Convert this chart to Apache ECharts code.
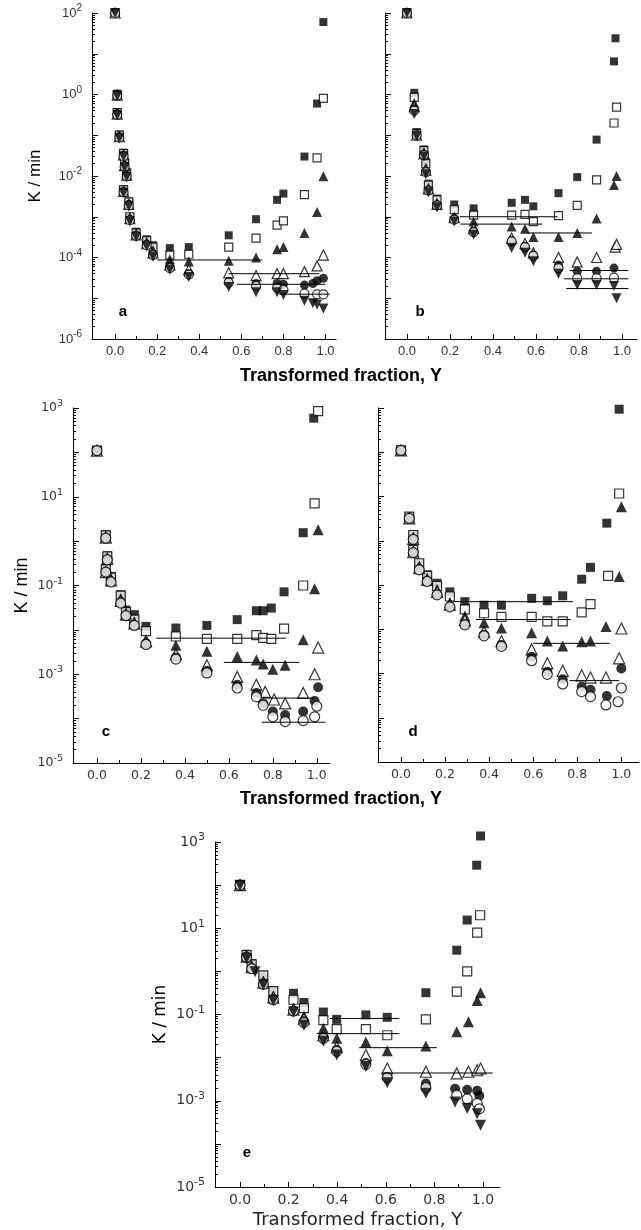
<!DOCTYPE html>
<html>
<head>
<meta charset="utf-8">
<script src="https://cdn.jsdelivr.net/npm/echarts@6/dist/echarts.min.js"></script>
<style>
  html, body { margin: 0; padding: 0; background: #fff; }
  #chart { width: 641px; height: 1230px; }
</style>
</head>
<body>
<div id="chart"></div>
<script>
// Rate constant K (1/min) versus transformed fraction Y, five conditions (a–e).
// Each array holds [Y, K] pairs; each *_lines array holds [Yfrom, Yto, K] plateaus.

// ---- panel a ----
const a_sqF = [[0,100],[0.01,1.05],[0.01,0.37],[0.02,0.105],[0.04,0.037],[0.045,0.022],[0.055,0.012],[0.04,0.0048],[0.065,0.0024],[0.07,0.001],[0.10,4.3e-4],[0.15,2.8e-4],[0.18,2.0e-4],[0.26,1.7e-4],[0.35,1.8e-4],[0.54,3.5e-4],[0.67,8.7e-4],[0.77,2.6e-3],[0.80,3.7e-3],[0.90,0.03],[0.96,0.6],[0.99,60]];
const a_sqO = [[0,100],[0.01,1.0],[0.01,0.36],[0.02,0.1],[0.04,0.036],[0.045,0.021],[0.055,0.012],[0.04,0.0046],[0.065,0.0023],[0.07,0.001],[0.10,4.0e-4],[0.15,2.6e-4],[0.18,1.8e-4],[0.26,1.15e-4],[0.35,1.2e-4],[0.54,1.8e-4],[0.67,3.0e-4],[0.77,6.2e-4],[0.80,7.9e-4],[0.90,3.5e-3],[0.96,0.028],[0.99,0.8]];
const a_triF = [[0,100],[0.01,0.98],[0.01,0.34],[0.02,0.095],[0.04,0.034],[0.045,0.019],[0.055,0.011],[0.04,0.0044],[0.065,0.0021],[0.07,9.5e-4],[0.10,3.8e-4],[0.15,2.4e-4],[0.18,1.5e-4],[0.26,9e-5],[0.35,8e-5],[0.54,8.3e-5],[0.67,1.0e-4],[0.77,1.6e-4],[0.80,1.8e-4],[0.90,4.0e-4],[0.96,1.3e-3],[0.99,9.8e-3]];
const a_triO = [[0,100],[0.01,0.97],[0.01,0.33],[0.02,0.092],[0.04,0.033],[0.045,0.018],[0.055,0.0105],[0.04,0.0042],[0.065,0.002],[0.07,9e-4],[0.10,3.6e-4],[0.15,2.2e-4],[0.18,1.3e-4],[0.26,6.5e-5],[0.35,5.0e-5],[0.54,4.2e-5],[0.67,3.6e-5],[0.77,4.0e-5],[0.80,4.0e-5],[0.90,4.5e-5],[0.96,6.2e-5],[0.99,1.15e-4]];
const a_cirF = [[0,100],[0.01,0.95],[0.01,0.33],[0.02,0.09],[0.04,0.032],[0.045,0.018],[0.055,0.01],[0.04,0.0041],[0.065,0.002],[0.07,8.5e-4],[0.10,3.5e-4],[0.15,2.1e-4],[0.18,1.2e-4],[0.26,6e-5],[0.35,4.0e-5],[0.54,2.6e-5],[0.67,2.3e-5],[0.77,2.3e-5],[0.80,2.2e-5],[0.90,2.1e-5],[0.94,2.3e-5],[0.96,2.7e-5],[0.99,3.1e-5]];
const a_cirO = [[0,100],[0.01,0.94],[0.01,0.32],[0.02,0.088],[0.04,0.031],[0.045,0.017],[0.055,0.0098],[0.04,0.004],[0.065,0.0019],[0.07,8.2e-4],[0.10,3.4e-4],[0.15,2.0e-4],[0.18,1.15e-4],[0.26,5.5e-5],[0.35,3.8e-5],[0.54,2.4e-5],[0.67,2.0e-5],[0.77,1.8e-5],[0.80,1.6e-5],[0.90,1.3e-5],[0.96,1.25e-5],[0.99,1.25e-5]];
const a_triD = [[0,100],[0.01,0.92],[0.01,0.31],[0.02,0.085],[0.04,0.03],[0.045,0.016],[0.055,0.0095],[0.04,0.0038],[0.065,0.0018],[0.07,7.8e-4],[0.10,3.2e-4],[0.15,1.9e-4],[0.18,1.05e-4],[0.26,5.0e-5],[0.35,3.3e-5],[0.54,1.9e-5],[0.67,1.4e-5],[0.77,1.4e-5],[0.80,1.2e-5],[0.90,8.7e-6],[0.94,7.5e-6],[0.96,7.0e-6],[0.99,5.6e-6]];
const a_lines = [[0.20,0.70,8.7e-5],[0.54,0.97,4.0e-5],[0.58,1.00,2.2e-5],[0.78,1.02,1.26e-5]];

// ---- panel b ----
const b_sqF = [[0,100],[0.034,1.1],[0.045,0.12],[0.079,0.045],[0.088,0.022],[0.10,0.0065],[0.14,0.0028],[0.22,0.002],[0.31,0.0016],[0.487,0.0022],[0.549,0.0026],[0.588,0.0018],[0.705,0.0038],[0.792,0.0094],[0.882,0.078],[0.963,6.5],[0.97,24]];
const b_sqO = [[0,100],[0.034,0.85],[0.045,0.11],[0.079,0.042],[0.088,0.02],[0.10,0.006],[0.14,0.0026],[0.22,0.0015],[0.31,0.0011],[0.487,0.0011],[0.549,0.00115],[0.588,7.6e-4],[0.705,0.00107],[0.792,0.0019],[0.882,0.008],[0.963,0.2],[0.975,0.49]];
const b_triF = [[0,100],[0.034,0.62],[0.045,0.105],[0.079,0.038],[0.088,0.016],[0.10,0.005],[0.14,0.0022],[0.22,0.001],[0.31,7.6e-4],[0.487,5.8e-4],[0.549,5.1e-4],[0.588,3.2e-4],[0.705,3.2e-4],[0.792,4.0e-4],[0.882,9.0e-4],[0.963,0.006],[0.975,0.01]];
const b_triO = [[0,100],[0.034,0.5],[0.045,0.1],[0.079,0.035],[0.088,0.014],[0.10,0.0048],[0.14,0.002],[0.22,9.5e-4],[0.31,5.2e-4],[0.487,3.0e-4],[0.549,2.2e-4],[0.588,1.3e-4],[0.705,1.0e-4],[0.792,7.8e-5],[0.882,1.0e-4],[0.968,1.8e-4],[0.975,2.1e-4]];
const b_cirF = [[0,100],[0.034,0.45],[0.045,0.1],[0.079,0.034],[0.088,0.013],[0.10,0.0045],[0.14,0.0019],[0.22,9.0e-4],[0.31,4.5e-4],[0.487,2.6e-4],[0.549,1.9e-4],[0.588,1.15e-4],[0.705,6.5e-5],[0.792,4.6e-5],[0.882,4.6e-5],[0.963,5.5e-5]];
const b_cirO = [[0,100],[0.034,0.4],[0.045,0.1],[0.079,0.033],[0.088,0.0125],[0.10,0.0044],[0.14,0.0019],[0.22,8.5e-4],[0.31,4.2e-4],[0.487,2.5e-4],[0.549,1.8e-4],[0.588,1.1e-4],[0.705,5.5e-5],[0.792,3.1e-5],[0.882,3.1e-5],[0.963,3.2e-5]];
const b_triD = [[0,100],[0.034,0.33],[0.045,0.095],[0.079,0.03],[0.088,0.011],[0.10,0.004],[0.14,0.0017],[0.22,7.6e-4],[0.31,3.6e-4],[0.487,1.7e-4],[0.549,1.3e-4],[0.588,8.1e-5],[0.705,4.0e-5],[0.792,2.1e-5],[0.882,2.1e-5],[0.963,2.0e-5],[0.975,1.0e-5]];
const b_lines = [[0.246,0.70,1.0e-3],[0.25,0.63,6.6e-4],[0.557,0.86,4.0e-4],[0.758,1.03,4.8e-5],[0.73,1.03,3.0e-5],[0.74,1.03,1.73e-5]];

// ---- panel c ----
const c_sqF = [[0,110],[0.04,1.4],[0.047,0.47],[0.04,0.24],[0.064,0.16],[0.108,0.062],[0.132,0.028],[0.17,0.022],[0.223,0.012],[0.359,0.011],[0.50,0.0126],[0.638,0.017],[0.725,0.027],[0.756,0.027],[0.793,0.031],[0.851,0.072],[0.938,1.55],[0.986,590]];
const c_sqO = [[0,110],[0.04,1.35],[0.047,0.45],[0.04,0.23],[0.064,0.15],[0.108,0.059],[0.132,0.025],[0.17,0.017],[0.223,0.0094],[0.359,0.0071],[0.50,0.0063],[0.638,0.0063],[0.725,0.0076],[0.756,0.0066],[0.793,0.0063],[0.851,0.0107],[0.938,0.1],[0.99,7.1],[1.006,850]];
const c_triF = [[0,110],[0.04,1.25],[0.047,0.42],[0.04,0.21],[0.064,0.14],[0.108,0.05],[0.132,0.024],[0.17,0.015],[0.223,0.006],[0.359,0.0045],[0.50,0.0033],[0.638,0.0025],[0.725,0.0021],[0.756,0.0017],[0.80,0.0013],[0.856,0.0016],[0.938,0.006],[0.99,0.085],[1.006,1.8]];
const c_triO = [[0,110],[0.04,1.2],[0.047,0.4],[0.04,0.2],[0.064,0.13],[0.108,0.045],[0.132,0.022],[0.17,0.014],[0.223,0.0055],[0.359,0.0028],[0.50,0.0016],[0.638,8.7e-4],[0.725,5.8e-4],[0.765,4.0e-4],[0.806,2.7e-4],[0.856,2.2e-4],[0.938,3.8e-4],[0.99,1.0e-3],[1.006,0.004]];
const c_cirF = [[0,110],[0.04,1.18],[0.047,0.39],[0.04,0.2],[0.064,0.125],[0.108,0.042],[0.132,0.021],[0.17,0.013],[0.223,0.005],[0.359,0.0024],[0.50,0.0012],[0.638,5.8e-4],[0.725,3.8e-4],[0.756,2.2e-4],[0.80,1.45e-4],[0.856,1.2e-4],[0.938,1.45e-4],[0.99,2.5e-4],[1.006,5.1e-4]];
const c_cirO = [[0,110],[0.04,1.17],[0.047,0.38],[0.04,0.2],[0.064,0.12],[0.108,0.04],[0.132,0.021],[0.17,0.0126],[0.223,0.0047],[0.359,0.0022],[0.50,0.00107],[0.638,4.9e-4],[0.725,3.1e-4],[0.756,2.0e-4],[0.80,1.1e-4],[0.856,8.6e-5],[0.938,9.0e-5],[0.99,1.1e-4],[1.0,1.9e-4]];
const c_lines = [[0.27,0.86,6.5e-3],[0.577,0.92,1.85e-3],[0.75,0.99,2.9e-4],[0.75,1.04,8.3e-5]];

// ---- panel d ----
const d_sqF = [[0,110],[0.038,3.5],[0.056,1.35],[0.056,0.62],[0.083,0.31],[0.119,0.17],[0.164,0.11],[0.222,0.07],[0.29,0.042],[0.377,0.035],[0.456,0.035],[0.593,0.05],[0.664,0.044],[0.734,0.057],[0.82,0.135],[0.86,0.25],[0.934,2.5],[0.99,940]];
const d_sqO = [[0,110],[0.038,3.5],[0.056,1.35],[0.056,0.62],[0.083,0.31],[0.119,0.16],[0.164,0.095],[0.222,0.055],[0.29,0.028],[0.377,0.023],[0.456,0.019],[0.593,0.019],[0.664,0.015],[0.734,0.015],[0.82,0.024],[0.86,0.037],[0.94,0.16],[0.99,11.7]];
const d_triF = [[0,110],[0.038,3.3],[0.056,1.2],[0.056,0.58],[0.083,0.27],[0.119,0.14],[0.164,0.08],[0.222,0.04],[0.29,0.02],[0.377,0.014],[0.456,0.0107],[0.593,0.0083],[0.664,0.0054],[0.734,0.0042],[0.82,0.0052],[0.86,0.0054],[0.93,0.0115],[0.99,0.155],[1.0,5.9]];
const d_triO = [[0,110],[0.038,3.2],[0.056,1.1],[0.056,0.55],[0.083,0.24],[0.119,0.13],[0.164,0.07],[0.222,0.036],[0.29,0.016],[0.377,0.0087],[0.456,0.0054],[0.593,0.0035],[0.664,0.0017],[0.734,0.00115],[0.82,9.1e-4],[0.86,8.1e-4],[0.93,8.1e-4],[0.99,0.0022],[1.0,0.0104]];
const d_cirF = [[0,110],[0.038,3.2],[0.056,1.08],[0.056,0.54],[0.083,0.23],[0.119,0.125],[0.164,0.062],[0.222,0.033],[0.29,0.013],[0.377,0.0075],[0.456,0.0044],[0.593,0.0024],[0.664,0.0011],[0.734,7.4e-4],[0.82,5.0e-4],[0.86,4.3e-4],[0.934,3.1e-4],[1.0,0.0013]];
const d_cirO = [[0,110],[0.038,3.2],[0.056,1.07],[0.056,0.54],[0.083,0.22],[0.119,0.12],[0.164,0.06],[0.222,0.032],[0.29,0.0126],[0.377,0.0071],[0.456,0.0041],[0.593,0.00195],[0.664,9.6e-4],[0.734,5.8e-4],[0.82,3.9e-4],[0.86,3.0e-4],[0.93,1.95e-4],[0.985,2.3e-4],[1.0,4.7e-4]];
const d_lines = [[0.236,0.78,0.042],[0.34,0.77,0.0166],[0.60,0.946,4.8e-3],[0.765,0.99,6.9e-4]];

// ---- panel e ----
const e_sqF = [[0,100],[0.027,2.5],[0.048,1.5],[0.096,0.81],[0.137,0.35],[0.22,0.31],[0.263,0.19],[0.343,0.114],[0.398,0.077],[0.518,0.098],[0.606,0.086],[0.765,0.32],[0.892,3.1],[0.935,15.5],[0.974,290],[0.99,1380]];
const e_sqO = [[0,100],[0.027,2.4],[0.048,1.45],[0.096,0.81],[0.137,0.35],[0.22,0.22],[0.263,0.14],[0.343,0.074],[0.398,0.046],[0.518,0.046],[0.606,0.033],[0.765,0.077],[0.892,0.34],[0.935,1.0],[0.976,7.9],[0.988,20]];
const e_triF = [[0,100],[0.027,2.3],[0.048,1.3],[0.096,0.6],[0.137,0.27],[0.22,0.14],[0.263,0.092],[0.343,0.048],[0.398,0.028],[0.518,0.023],[0.606,0.0144],[0.765,0.0186],[0.892,0.04],[0.94,0.068],[0.976,0.21],[0.99,0.32]];
const e_triO = [[0,100],[0.027,2.2],[0.048,1.25],[0.096,0.55],[0.137,0.25],[0.22,0.13],[0.263,0.08],[0.343,0.033],[0.398,0.0175],[0.518,0.0115],[0.606,0.0056],[0.765,0.0047],[0.892,0.0043],[0.94,0.0047],[0.976,0.0051],[0.99,0.0056]];
const e_cirF = [[0,100],[0.027,2.2],[0.048,1.2],[0.096,0.52],[0.137,0.23],[0.22,0.12],[0.263,0.07],[0.343,0.03],[0.398,0.015],[0.518,0.0075],[0.606,0.0036],[0.765,0.0025],[0.885,0.0019],[0.935,0.0018],[0.976,0.0017],[0.985,0.0013]];
const e_cirO = [[0,100],[0.027,2.1],[0.048,1.15],[0.096,0.5],[0.137,0.22],[0.22,0.12],[0.263,0.065],[0.343,0.028],[0.398,0.014],[0.518,0.007],[0.606,0.0034],[0.765,0.002],[0.892,0.00135],[0.935,0.0011],[0.976,8.7e-4],[0.985,6.5e-4]];
const e_triD = [[0,100],[0.027,2.0],[0.062,0.98],[0.096,0.48],[0.137,0.21],[0.22,0.115],[0.263,0.056],[0.343,0.024],[0.398,0.0115],[0.518,0.0062],[0.606,0.0026],[0.765,0.0015],[0.885,9.3e-4],[0.935,6.6e-4],[0.976,5.0e-4],[0.99,2.7e-4]];
const e_lines = [[0.37,0.656,0.081],[0.315,0.656,0.036],[0.49,0.81,0.017],[0.583,1.04,4.4e-3]];

// ---- tick positions ----
const xMajorTicks = [0, 0.2, 0.4, 0.6, 0.8, 1.0];
const xMinorTicks = [0.1, 0.3, 0.5, 0.7, 0.9];
const decadesAB = [-6, -5, -4, -3, -2, -1, 0, 1, 2];
const labelDecadesAB = [-6, -4, -2, 0, 2];
const decadesCDE = [-5, -4, -3, -2, -1, 0, 1, 2, 3];
const labelDecadesCDE = [-5, -3, -1, 1, 3];
const xTitle = 'Transformed fraction, Y';
const yTitle = 'K / min';

// ---- layout and styling ----
const SANS = '"Liberation Sans", Arial, sans-serif';
const WIDE = '"DejaVu Sans", Verdana, sans-serif';
const INK = '#000';
const TEXT = '#333';

const panels = [
  { letter: 'a', series: { sqF: a_sqF, sqO: a_sqO, triF: a_triF, triO: a_triO, cirF: a_cirF, cirO: a_cirO, triD: a_triD }, lines: a_lines,
    grid: { left: 92, top: 13, width: 244, height: 326 }, xr: [-0.11, 1.05], decades: decadesAB, labels: labelDecadesAB,
    yLabel: true, yNameGap: 48, nameSize: 17, nameFont: SANS, font: SANS, fs: 13, mark: 8, letterPos: [123, 312] },
  { letter: 'b', series: { sqF: b_sqF, sqO: b_sqO, triF: b_triF, triO: b_triO, cirF: b_cirF, cirO: b_cirO, triD: b_triD }, lines: b_lines,
    grid: { left: 385, top: 13, width: 252, height: 326 }, xr: [-0.102, 1.07], decades: decadesAB, labels: labelDecadesAB,
    yLabel: false, font: SANS, fs: 13, mark: 8, letterPos: [420, 312] },
  { letter: 'c', series: { sqF: c_sqF, sqO: c_sqO, triF: c_triF, triO: c_triO, cirF: c_cirF, cirO: c_cirO }, lines: c_lines,
    grid: { left: 73, top: 408, width: 257, height: 355 }, xr: [-0.109, 1.06], decades: decadesCDE, labels: labelDecadesCDE,
    yLabel: true, yNameGap: 42, nameSize: 18, nameFont: SANS, font: WIDE, fs: 12.5, mark: 9, letterPos: [106, 732] },
  { letter: 'd', series: { sqF: d_sqF, sqO: d_sqO, triF: d_triF, triO: d_triO, cirF: d_cirF, cirO: d_cirO }, lines: d_lines,
    grid: { left: 378, top: 408, width: 261, height: 354 }, xr: [-0.104, 1.08], decades: decadesCDE, labels: labelDecadesCDE,
    yLabel: false, font: WIDE, fs: 12.5, mark: 9, letterPos: [413, 732] },
  { letter: 'e', series: { sqF: e_sqF, sqO: e_sqO, triF: e_triF, triO: e_triO, cirF: e_cirF, cirO: e_cirO, triD: e_triD }, lines: e_lines,
    grid: { left: 215, top: 842, width: 285, height: 345 }, xr: [-0.103, 1.07], decades: decadesCDE, labels: labelDecadesCDE,
    yLabel: true, yNameGap: 46, nameSize: 17, nameFont: WIDE, font: WIDE, fs: 14, mark: 9, letterPos: [247, 1153], xName: true }
];

const MARKERS = {
  sqF:  { symbol: 'rect',     scale: 0.95, fill: INK },
  sqO:  { symbol: 'rect',     scale: 0.95, fill: '#fff' },
  triF: { symbol: 'triangle', scale: 1.2,  fill: INK },
  triO: { symbol: 'triangle', scale: 1.2,  fill: '#fff' },
  cirF: { symbol: 'circle',   scale: 1.1,  fill: INK },
  cirO: { symbol: 'circle',   scale: 1.1,  fill: '#fff' },
  triD: { symbol: 'triangle', scale: 1.2,  fill: INK, rotate: 180 }
};
const DRAW_ORDER = ['sqF', 'sqO', 'triF', 'triO', 'cirF', 'cirO', 'triD'];

const log10 = Math.log10;
const minorLogTicks = (decs) => {
  const out = [];
  for (let i = 0; i < decs.length - 1; i++) {
    for (let k = 2; k <= 9; k++) out.push(decs[i] + log10(k));
  }
  return out;
};

const grids = [], xAxes = [], yAxes = [], series = [], graphics = [];

panels.forEach((p, i) => {
  grids.push(Object.assign({ containLabel: false, outerBoundsMode: 'none' }, p.grid));
  const yMin = p.decades[0], yMax = p.decades[p.decades.length - 1];
  const lineStyle = { color: INK, width: 1 };

  // main x axis: line, major ticks, labels
  xAxes.push({
    gridIndex: i, type: 'value', min: p.xr[0], max: p.xr[1], position: 'bottom',
    axisLine: { onZero: false, lineStyle },
    axisTick: { inside: true, length: 5, customValues: xMajorTicks, lineStyle },
    axisLabel: { customValues: xMajorTicks, formatter: v => v.toFixed(1), margin: 6,
      fontSize: p.fs, color: TEXT, fontFamily: p.font },
    splitLine: { show: false },
    name: p.xName ? xTitle : '', nameLocation: 'middle', nameGap: 24,
    nameTextStyle: { fontSize: 18, color: '#222', fontFamily: WIDE }
  });
  // minor x ticks
  xAxes.push({
    gridIndex: i, type: 'value', min: p.xr[0], max: p.xr[1], position: 'bottom',
    axisLine: { show: false, onZero: false },
    axisTick: { inside: true, length: 3, customValues: xMinorTicks, lineStyle },
    axisLabel: { show: false }, splitLine: { show: false }
  });

  // main y axis (log10 of K): line, decade ticks, 10^n labels
  yAxes.push({
    gridIndex: i, type: 'value', min: yMin, max: yMax, position: 'left',
    axisLine: { onZero: false, lineStyle },
    axisTick: { inside: true, length: 6, customValues: p.decades, lineStyle },
    axisLabel: {
      show: p.yLabel, customValues: p.labels, margin: 10,
      formatter: v => '{b|10}{s|' + Math.round(v) + '}',
      rich: {
        b: { fontSize: p.fs, lineHeight: p.fs + 6, color: TEXT, fontFamily: p.font },
        s: { fontSize: p.fs - 3, verticalAlign: 'top', color: TEXT, fontFamily: p.font }
      }
    },
    splitLine: { show: false },
    name: p.yLabel ? yTitle : '', nameLocation: 'middle', nameGap: p.yNameGap || 0, nameRotate: 90,
    nameTextStyle: { fontSize: p.nameSize || 17, color: INK, fontFamily: p.nameFont || SANS }
  });
  // minor y ticks at 2..9 within each decade
  yAxes.push({
    gridIndex: i, type: 'value', min: yMin, max: yMax, position: 'left',
    axisLine: { show: false, onZero: false },
    axisTick: { inside: true, length: 3, customValues: minorLogTicks(p.decades), lineStyle },
    axisLabel: { show: false }, splitLine: { show: false }
  });

  DRAW_ORDER.forEach(key => {
    const pts = p.series[key];
    if (!pts) return;
    const m = MARKERS[key];
    series.push({
      type: 'scatter', xAxisIndex: 2 * i, yAxisIndex: 2 * i,
      data: pts.map(([y, k]) => [y, log10(k)]),
      symbol: m.symbol, symbolSize: Math.round(p.mark * m.scale), symbolRotate: m.rotate || 0,
      itemStyle: { color: m.fill, borderColor: INK, borderWidth: m.fill === INK ? 0 : 1.2 },
      clip: false, silent: true, z: 2
    });
  });

  p.lines.forEach(([y0, y1, k]) => {
    series.push({
      type: 'line', xAxisIndex: 2 * i, yAxisIndex: 2 * i,
      data: [[y0, log10(k)], [y1, log10(k)]],
      symbol: 'none', lineStyle: { color: INK, width: 1 }, silent: true, z: 3
    });
  });

  graphics.push({
    type: 'text', x: p.letterPos[0], y: p.letterPos[1],
    style: { text: p.letter, font: 'bold 15px ' + SANS, fill: INK, align: 'center', verticalAlign: 'middle' }
  });
});

// shared axis titles for the upper two rows
[376, 799].forEach(y => {
  graphics.push({
    type: 'text', x: 341, y,
    style: { text: xTitle, font: 'bold 18px ' + SANS, fill: INK, align: 'center', verticalAlign: 'middle' }
  });
});

const chart = echarts.init(document.getElementById('chart'), null, { renderer: 'canvas' });
chart.setOption({
  animation: false,
  backgroundColor: '#fff',
  grid: grids,
  xAxis: xAxes,
  yAxis: yAxes,
  series,
  graphic: graphics
});
</script>
</body>
</html>
